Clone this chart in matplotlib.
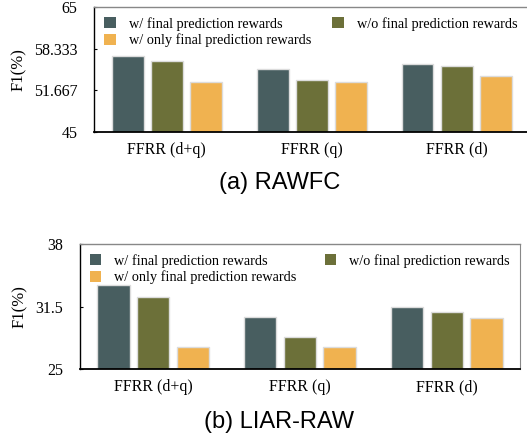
import matplotlib
matplotlib.use("Agg")
import matplotlib.pyplot as plt
import numpy as np
from matplotlib.patches import Patch

categories = ["FFRR (d+q)", "FFRR (q)", "FFRR (d)"]
series_names = ["w/ final prediction rewards", "w/o final prediction rewards",
                "w/ only final prediction rewards"]

rawfc_with = [57.15, 55.05, 55.95]
rawfc_without = [56.35, 53.3, 55.6]
rawfc_only = [52.95, 52.95, 54.0]

liar_with = [33.75, 30.45, 31.5]
liar_without = [32.55, 28.3, 30.95]
liar_only = [27.3, 27.3, 30.35]

rawfc_ticks = [45, 51.667, 58.333, 65]
rawfc_ticklabels = ["45", "51.667", "58.333", "65"]
liar_ticks = [25, 31.5, 38]
liar_ticklabels = ["25", "31.5", "38"]

colors = ["#485e60", "#6c7039", "#f0b250"]

serif = ["Liberation Serif", "DejaVu Serif"]
sans = ["Liberation Sans", "DejaVu Sans"]

fig = plt.figure(figsize=(5.27, 4.36), dpi=100)

def panel(rect, data, ticks, ticklabels, ylim, title, title_y, right_spine, colsp):
    ax = fig.add_axes(rect)
    x = np.arange(len(categories))
    pitch = 0.27
    width = 0.22
    for i, (vals, c) in enumerate(zip(data, colors)):
        ax.bar(x + (i - 1) * pitch, vals, width=width, color=c,
               edgecolor="#dcdcdc", linewidth=1.0, zorder=2)
    ax.set_xlim(-0.5, 2.5)
    ax.set_ylim(*ylim)
    ax.set_yticks(ticks)
    ax.set_yticklabels(ticklabels, fontfamily=serif, fontsize=11.5)
    ax.set_xticks(x)
    ax.set_xticklabels(categories, fontfamily=serif, fontsize=11.5)
    ax.tick_params(axis="x", length=0, pad=7)
    ax.tick_params(axis="y", direction="in", length=2.5, width=0.8, pad=12)
    ax.set_ylabel("F1(%)", fontfamily=serif, fontsize=12, labelpad=5)
    ax.spines["top"].set_color("#888888")
    ax.spines["top"].set_linewidth(1.0)
    ax.spines["bottom"].set_linewidth(1.3)
    ax.spines["left"].set_linewidth(1.0)
    if right_spine:
        ax.spines["right"].set_color("#888888")
    else:
        ax.spines["right"].set_visible(False)
    handles = [Patch(facecolor=colors[0]), Patch(facecolor=colors[2]),
               Patch(facecolor=colors[1])]
    labels = [series_names[0], series_names[2], series_names[1]]
    ax.legend(handles, labels, ncol=2, loc="upper left",
              bbox_to_anchor=(0.0, 1.0), frameon=False,
              prop={"family": serif, "size": 10.3},
              handlelength=0.8, handleheight=0.8, handletextpad=0.9,
              columnspacing=colsp, labelspacing=0.2, borderaxespad=0.3)
    fig.text(0.53, title_y, title, ha="center", va="center",
             fontfamily=sans, fontsize=17)
    return ax

panel([0.179, 0.6972, 0.825, 0.2867],
      [rawfc_with, rawfc_without, rawfc_only],
      rawfc_ticks, rawfc_ticklabels, (45, 65), "(a) RAWFC",
      1 - 183 / 436, False, 1.5)
panel([0.151, 0.153, 0.836, 0.2874],
      [liar_with, liar_without, liar_only],
      liar_ticks, liar_ticklabels, (25, 38), "(b) LIAR-RAW",
      1 - 421.5 / 436, True, 2.0)

fig.savefig("out.png", dpi=100)
